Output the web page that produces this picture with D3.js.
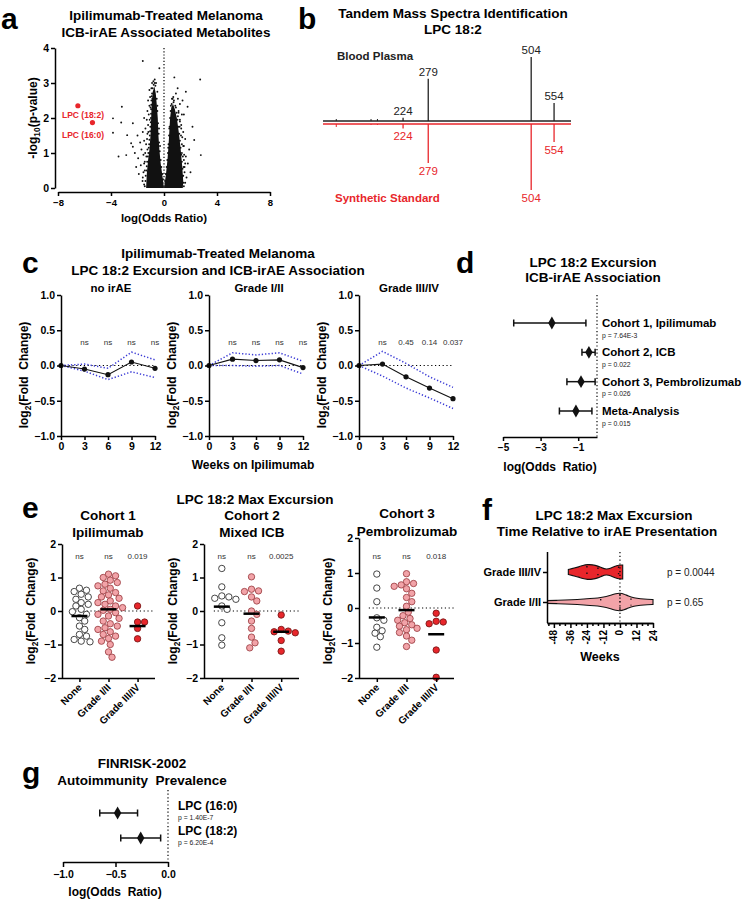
<!DOCTYPE html>
<html><head><meta charset="utf-8">
<script src="https://cdn.jsdelivr.net/npm/d3@7"></script>
<style>body{margin:0;background:#fff}</style>
</head><body><svg id="fig" width="745" height="899"></svg>
<script>
// ---------------- DATA ----------------
// a: volcano
const volcanoXTicks = [-8, -4, 0, 4, 8];
const volcanoYTicks = [0, 1, 2, 3, 4];
const volcanoHighlights = [
  { name: "LPC (18:2)", x: -6.5, y: 2.35 },
  { name: "LPC (16:0)", x: -5.4, y: 1.87 }
];
// dense core outlines (log OR, -log10 p)
const volcanoCoreLeft = [[-1.35,0],[-1.3,0.4],[-1.2,0.8],[-1.1,1.1],[-1.02,1.5],[-0.97,2.0],[-0.93,2.4],[-0.85,2.75],[-0.72,2.9],[-0.62,2.7],[-0.55,2.4],[-0.47,2.0],[-0.42,1.5],[-0.35,1.1],[-0.25,0.7],[-0.12,0.35],[-0.03,0.08],[0,0]];
const volcanoCoreRight = [[0,0],[0.04,0.1],[0.15,0.4],[0.26,0.8],[0.34,1.2],[0.4,1.6],[0.46,2.0],[0.55,2.3],[0.68,2.4],[0.82,2.25],[0.97,2.0],[1.13,1.56],[1.26,1.1],[1.38,0.6],[1.45,0.2],[1.42,0]];
const volcanoScatter = [
  [-1.6,3.63],[-0.35,3.42],[0.78,3.16],[2.73,3.1],[-0.9,3.0],[-0.8,3.05],[-0.7,3.1],[-0.6,3.0],[-0.95,2.85],[-1.05,2.6],[-0.5,2.75],
  [1.03,2.85],[1.65,2.75],[1.4,2.5],[1.78,2.32],[1.2,2.4],[1.05,2.55],[1.5,2.1],[2.15,1.75],[2.28,1.37],[2.78,0.94],
  [1.9,1.1],[1.65,0.9],[1.8,0.7],[1.55,0.6],[2.0,0.45],[1.4,0.35],[1.7,0.3],[1.6,1.4],[1.3,1.8],[1.45,1.6],[1.35,2.1],
  [-3.18,2.32],[-3.85,1.99],[-3.23,1.87],[-3.85,1.58],[-2.35,1.85],[-2.78,1.51],[-2.48,1.28],[-3.43,0.9],[-2.85,0.94],
  [-2.35,1.18],[-2.2,1.0],[-1.95,0.85],[-2.1,0.6],[-1.75,0.65],[-1.9,0.4],[-1.6,0.3],[-1.7,1.1],[-1.5,1.35],[-1.4,1.7],
  [-1.3,1.95],[-1.25,2.2],[-1.5,2.0],[-1.2,2.5],[-1.1,2.8],[-1.6,1.6],[-1.8,1.3],[-2.0,1.5],[-1.55,0.95],[-1.45,0.5],
  [0.7,2.6],[0.9,2.7],[0.6,2.55],[1.1,2.2],[1.2,1.9],[1.5,1.2],[1.35,1.0],[1.5,0.8],[1.6,0.15],[-1.5,0.1],[-1.45,0.75],
  [-1.45,0.05],[-1.4,0.2],[-1.38,0.35],[-1.33,0.5],[-1.3,0.62],[-1.27,0.75],[-1.22,0.9],[-1.18,1.0],[-1.15,1.15],[-1.12,1.25],
  [-1.1,1.38],[-1.07,1.5],[-1.05,1.62],[-1.03,1.75],[-1.0,1.88],[-0.99,2.0],[-0.98,2.12],[-0.97,2.25],[-0.96,2.38],[-0.95,2.5],
  [-0.93,2.62],[-0.9,2.7],[-0.85,2.85],[-0.78,2.95],[-0.7,3.0],[-0.65,2.92],[-0.55,2.55],[-0.5,2.2],[-0.45,1.85],[-0.4,1.55],
  [-0.37,1.3],[-0.32,1.05],[-0.25,0.8],[-0.2,0.6],[-0.12,0.4],[-0.08,0.25],[0.08,0.2],[0.14,0.4],[0.2,0.6],[0.25,0.8],
  [0.3,1.0],[0.34,1.25],[0.38,1.5],[0.42,1.75],[0.46,2.0],[0.5,2.2],[0.58,2.4],[0.65,2.55],[0.75,2.5],[0.85,2.35],
  [0.95,2.15],[1.02,1.95],[1.08,1.75],[1.15,1.55],[1.2,1.35],[1.25,1.15],[1.3,0.95],[1.35,0.75],[1.4,0.55],[1.45,0.35],
  [1.48,0.15],[1.5,0.05],[1.55,0.45],[1.6,0.7],[1.52,0.95],[1.45,1.2],[1.38,1.45],[1.3,1.7],[1.2,1.95],[1.1,2.15],
  [-1.25,1.55],[-1.2,1.8],[-1.15,2.1],[-1.1,2.35],[-1.35,1.25],[-1.42,1.0],[-1.5,0.7],[-1.55,0.45],[-1.62,0.2],[-1.28,1.4],
  [-1.33,0.9],[-1.25,1.1],[-1.18,1.6],[-1.08,1.95],[-1.02,2.3],[-0.88,2.55],[1.28,1.5],[1.35,1.25],[1.42,0.9],[1.48,0.6],
  [1.18,1.75],[1.05,2.05],[0.9,2.3],[0.72,2.45],[-0.3,1.2],[-0.38,1.7],[-0.5,2.35],[0.32,1.15],[0.4,1.7],[0.52,2.35]
];
// b: MS/MS spectra
const msPlasma = [{ mz: 224, i: 5 }, { mz: 279, i: 66 }, { mz: 504, i: 100 }, { mz: 554, i: 28 }];
const msStandard = [{ mz: 224, i: 7 }, { mz: 279, i: 61 }, { mz: 504, i: 103 }, { mz: 554, i: 28 }];
const msMinor = [78, 154, 168];
// c: time courses
const weeks = [0, 3, 6, 9, 12];
const cPanels = ["no irAE", "Grade I/II", "Grade III/IV"];
const cMean = [[0, -0.05, -0.13, 0.05, -0.04], [0, 0.09, 0.07, 0.08, -0.03], [0, 0.02, -0.16, -0.32, -0.47]];
const cUpper = [[0, 0.02, -0.04, 0.19, 0.08], [0, 0.18, 0.15, 0.18, 0.06], [0, 0.2, 0.03, -0.16, -0.31]];
const cLower = [[0, -0.08, -0.2, -0.09, -0.17], [0, 0.0, -0.01, 0.0, -0.12], [0, -0.15, -0.32, -0.46, -0.61]];
const cSig = [["ns", "ns", "ns", "ns"], ["ns", "ns", "ns", "ns"], ["ns", "0.45", "0.14", "0.037"]];
const cYTicks = [-1.0, -0.5, 0.0, 0.5, 1.0];
// d: forest
const dNames = ["Cohort 1, Ipilimumab", "Cohort 2, ICB", "Cohort 3, Pembrolizumab", "Meta-Analysis"];
const dEst = [-2.4, -0.43, -0.85, -1.12];
const dLo = [-4.43, -0.8, -1.6, -2.0];
const dHi = [-0.59, -0.1, -0.1, -0.27];
const dP = ["p = 7.64E-3", "p = 0.022", "p = 0.026", "p = 0.015"];
const dTicks = [-5, -3, -1];
// e: max excursion
const eGroups = ["None", "Grade I/II", "Grade III/IV"];
const eTitles = [["Cohort 1", "Ipilimumab"], ["Cohort 2", "Mixed ICB"], ["Cohort 3", "Pembrolizumab"]];
const c1None = [0.68,0.62,0.58,0.5,0.42,0.35,0.25,0.2,0.15,0.05,-0.02,-0.1,-0.2,-0.3,-0.45,-0.55,-0.7,-0.75,-0.85,-0.9,-0.92];
const c1G12 = [1.1,1.05,1.0,0.92,0.85,0.8,0.75,0.68,0.6,0.55,0.48,0.42,0.38,0.3,0.25,0.2,0.15,0.1,0.05,0.02,-0.05,-0.1,-0.15,-0.22,-0.3,-0.38,-0.45,-0.5,-0.55,-0.62,-0.7,-0.75,-0.82,-0.9,-1.0,-1.22,-1.38];
const c1G34 = [0.15,-0.33,-0.33,-0.52,-0.83];
const c2None = [1.27,0.72,0.45,0.42,0.38,0.35,0.15,0.05,-0.35,-0.8,-1.02];
const c2G12 = [1.02,0.65,0.6,0.58,0.42,0.3,0.0,-0.1,-0.3,-0.52,-0.78,-0.95,-1.1];
const c2G34 = [-0.12,-0.55,-0.6,-0.62,-0.65,-0.88,-1.2];
const c3None = [0.97,0.57,0.18,-0.28,-0.35,-0.55,-0.65,-0.72,-0.82,-1.12];
const c3G12 = [0.98,0.75,0.7,0.66,0.62,0.55,0.42,0.3,0.18,0.05,-0.12,-0.22,-0.3,-0.35,-0.42,-0.48,-0.52,-0.58,-0.62,-0.7,-0.8,-0.92,-1.1];
const c3G34 = [-0.15,-0.38,-0.4,-0.45,-1.2,-1.98];
const eMedians = [[-0.15, 0.05, -0.45], [0.13, -0.08, -0.62], [-0.27, -0.06, -0.75]];
const eSig = [["ns", "ns", "0.019"], ["ns", "ns", "0.0025"], ["ns", "ns", "0.018"]];
const eYTicks = [-2, -1, 0, 1, 2];
// f: violins (week, half-width)
const fGroups = ["Grade III/IV", "Grade I/II"];
const fProfileG34 = [[-37.5,2.5],[-33,4],[-30,5],[-27,6.7],[-23.5,7.5],[-20,7.3],[-16,6],[-13,4],[-10,2.7],[-7,3.5],[-4,5.5],[-1,7],[2,7]];
const fProfileG12 = [[-56,1.2],[-45,1.7],[-35,2.2],[-26,3],[-18,3.8],[-14,4.5],[-10,5.5],[-6,7],[-3,8.5],[0,9],[3,8],[6,6],[10,4.2],[15,3.2],[20,2.6],[24,2.5]];
const fQuartiles = [[-24, -16, -1], [-14, 0, 8]];
const fP = ["p = 0.0044", "p = 0.65"];
const fTicks = [-48, -36, -24, -12, 0, 12, 24];
// g: FINRISK forest
const gNames = ["LPC (16:0)", "LPC (18:2)"];
const gEst = [-0.48, -0.26];
const gLo = [-0.65, -0.45];
const gHi = [-0.29, -0.07];
const gP = ["p = 1.40E-7", "p = 6.20E-4"];
const gTicks = [-1.0, -0.5, 0.0];

// ---------------- DRAW ----------------
const F = '"Liberation Sans", Arial, Helvetica, sans-serif';
const RED = "#e8262b", PINK = "#f2a3a8", BLUE = "#3b3bd6";
const svg = d3.select("#fig");
svg.append("rect").attr("width", 745).attr("height", 899).attr("fill", "#fff");

function txt(x, y, s, o = {}) {
  const t = svg.append("text").attr("x", x).attr("y", y).text(s)
    .attr("font-family", F).attr("font-size", o.size || 12)
    .attr("font-weight", o.bold ? "bold" : "normal")
    .attr("text-anchor", o.anchor || "middle").attr("fill", o.fill || "#000")
    .style("white-space", "pre");
  if (o.rotate) t.attr("transform", `rotate(${o.rotate},${x},${y})`);
  return t;
}
function subLabel(x, y, pre, sub, post, o = {}) {
  const t = svg.append("text").attr("x", x).attr("y", y)
    .attr("font-family", F).attr("font-size", o.size || 12).attr("font-weight", "bold")
    .attr("text-anchor", "middle").style("white-space", "pre");
  if (o.rotate) t.attr("transform", `rotate(${o.rotate},${x},${y})`);
  t.append("tspan").text(pre);
  t.append("tspan").text(sub).attr("font-size", (o.size || 12) * 0.7).attr("dy", 3);
  t.append("tspan").text(post).attr("dy", -3);
  return t;
}
function styleAxis(g, fs) {
  g.selectAll("path.domain").attr("stroke", "#000").attr("stroke-width", 1.5);
  g.selectAll(".tick line").attr("stroke", "#000").attr("stroke-width", 1.5);
  g.selectAll(".tick text").attr("font-family", F).attr("font-size", fs || 10.5)
    .attr("font-weight", "bold").attr("fill", "#000");
}
function letter(x, y, s) { txt(x, y, s, { size: 30, bold: true, anchor: "start" }); }

// ===== Panel a =====
letter(1, 28.5, "a");
txt(166, 19.5, "Ipilimumab-Treated Melanoma", { size: 13.5, bold: true });
txt(166, 36.5, "ICB-irAE Associated Metabolites", { size: 13.5, bold: true });
{
  const x = d3.scaleLinear().domain([-8, 8]).range([58, 270]);
  const y = d3.scaleLinear().domain([0, 4]).range([188, 48]);
  const line = d3.line().x(d => x(d[0])).y(d => y(d[1]));
  svg.append("path").attr("d", line(volcanoCoreLeft) + "Z").attr("fill", "#111");
  svg.append("path").attr("d", line(volcanoCoreRight) + "Z").attr("fill", "#111");
  svg.append("g").selectAll("circle").data(volcanoScatter).join("circle")
    .attr("cx", d => x(d[0])).attr("cy", d => y(d[1])).attr("r", 0.95).attr("fill", "#111");
  svg.append("line").attr("x1", x(0)).attr("x2", x(0)).attr("y1", 48).attr("y2", 188)
    .attr("stroke", "#000").attr("stroke-width", 1.2).attr("stroke-dasharray", "1.2,2");
  svg.append("g").selectAll("circle").data(volcanoHighlights).join("circle")
    .attr("cx", d => x(d.x)).attr("cy", d => y(d.y)).attr("r", 2.6).attr("fill", RED);
  volcanoHighlights.forEach(d => txt(83, y(d.y) + 15 - (d.name === "LPC (16:0)" ? 0 : 3), d.name, { size: 8.5, bold: true, fill: RED }));
  const gx = svg.append("g").attr("transform", "translate(0,192)")
    .call(d3.axisBottom(x).tickValues(volcanoXTicks).tickSize(4).tickSizeOuter(0).tickPadding(3));
  styleAxis(gx, 9.5);
  const gy = svg.append("g").attr("transform", "translate(55,0)")
    .call(d3.axisLeft(y).tickValues(volcanoYTicks).tickSize(4).tickSizeOuter(0).tickPadding(2).tickFormat(d3.format("d")));
  styleAxis(gy, 10.5);
  txt(164, 222, "log(Odds Ratio)", { size: 11.5, bold: true });
  subLabel(37, 118, "-log", "10", "(p-value)", { size: 12, rotate: -90 });
}

// ===== Panel b =====
letter(298, 28.5, "b");
txt(453, 17.5, "Tandem Mass Spectra Identification", { size: 13.5, bold: true });
txt(453, 34, "LPC 18:2", { size: 13.5, bold: true });
{
  const x = d3.scaleLinear().domain([49, 591]).range([323, 571]);
  const h = d3.scaleLinear().domain([0, 100]).range([0, 64]);
  const yb = 121, yr = 124;
  svg.append("line").attr("x1", 323).attr("x2", 571).attr("y1", yb).attr("y2", yb).attr("stroke", "#222").attr("stroke-width", 1.4);
  svg.append("line").attr("x1", 323).attr("x2", 571).attr("y1", yr).attr("y2", yr).attr("stroke", RED).attr("stroke-width", 1.4);
  msMinor.forEach((m, k) => {
    svg.append("line").attr("x1", x(m)).attr("x2", x(m)).attr("y1", yb - 2).attr("y2", yb).attr("stroke", "#222").attr("stroke-width", 1);
    svg.append("line").attr("x1", x(m)).attr("x2", x(m)).attr("y1", yr).attr("y2", yr + (k === 0 ? 3 : 1)).attr("stroke", RED).attr("stroke-width", 1);
  });
  msPlasma.forEach(p => {
    svg.append("line").attr("x1", x(p.mz)).attr("x2", x(p.mz)).attr("y1", yb).attr("y2", yb - h(p.i)).attr("stroke", "#222").attr("stroke-width", 1.3);
    txt(x(p.mz), yb - h(p.i) - 3, String(p.mz), { size: 11.5, fill: "#222" });
  });
  msStandard.forEach(p => {
    svg.append("line").attr("x1", x(p.mz)).attr("x2", x(p.mz)).attr("y1", yr).attr("y2", yr + h(p.i)).attr("stroke", RED).attr("stroke-width", 1.3);
    txt(x(p.mz), yr + h(p.i) + 12, String(p.mz), { size: 11.5, fill: RED });
  });
  txt(337, 60, "Blood Plasma", { size: 11.5, bold: true, anchor: "start", fill: "#222" });
  txt(335, 202, "Synthetic Standard", { size: 11.5, bold: true, anchor: "start", fill: RED });
}

// ===== Panel c =====
letter(22, 273, "c");
txt(218, 258, "Ipilimumab-Treated Melanoma", { size: 13.5, bold: true });
txt(218, 275, "LPC 18:2 Excursion and ICB-irAE Association", { size: 13.5, bold: true });
{
  const lefts = [61, 209, 359];
  cPanels.forEach((name, k) => {
    const x = d3.scaleLinear().domain([0, 12]).range([lefts[k], lefts[k] + 94]);
    const y = d3.scaleLinear().domain([-1, 1]).range([436, 295]);
    txt(lefts[k] + 50, 292, name, { size: 11.5, bold: true });
    svg.append("line").attr("x1", x(0)).attr("x2", x(12)).attr("y1", y(0)).attr("y2", y(0))
      .attr("stroke", "#000").attr("stroke-width", 1.2).attr("stroke-dasharray", "1.2,2.6");
    const ln = d3.line().x((d, i) => x(weeks[i])).y(d => y(d));
    [cUpper[k], cLower[k]].forEach(arr => svg.append("path").attr("d", ln(arr)).attr("fill", "none")
      .attr("stroke", BLUE).attr("stroke-width", 1.5).attr("stroke-dasharray", "1.3,2"));
    svg.append("path").attr("d", ln(cMean[k])).attr("fill", "none").attr("stroke", "#111").attr("stroke-width", 1.1);
    svg.append("g").selectAll("circle").data(cMean[k]).join("circle")
      .attr("cx", (d, i) => x(weeks[i])).attr("cy", d => y(d)).attr("r", 2.6).attr("fill", "#111");
    cSig[k].forEach((s, i) => txt(x(weeks[i + 1]), 345, s, { size: 8, fill: "#333" }));
    const gx = svg.append("g").attr("transform", "translate(0,436)")
      .call(d3.axisBottom(x).tickValues(weeks).tickSize(4).tickSizeOuter(0).tickPadding(3));
    styleAxis(gx, 10.5);
    const gy = svg.append("g").attr("transform", `translate(${lefts[k]},0)`)
      .call(d3.axisLeft(y).tickValues(cYTicks).tickSize(4).tickSizeOuter(0).tickPadding(2).tickFormat(d3.format(".1f")));
    styleAxis(gy, 10.5);
    subLabel(lefts[k] - 33, 375, "log", "2", "(Fold  Change)", { size: 12, rotate: -90 });
  });
  txt(253, 469, "Weeks on Ipilimumab", { size: 12, bold: true });
}

// ===== Panel d =====
letter(456, 273, "d");
txt(593, 267, "LPC 18:2 Excursion", { size: 13.5, bold: true });
txt(593, 282, "ICB-irAE Association", { size: 13.5, bold: true });
function forest(names, est, lo, hi, ps, xs, ys, labelX) {
  names.forEach((n, i) => {
    const yy = ys(n);
    svg.append("line").attr("x1", xs(lo[i])).attr("x2", xs(hi[i])).attr("y1", yy).attr("y2", yy).attr("stroke", "#111").attr("stroke-width", 1.5);
    [lo[i], hi[i]].forEach(v => svg.append("line").attr("x1", xs(v)).attr("x2", xs(v)).attr("y1", yy - 3.5).attr("y2", yy + 3.5).attr("stroke", "#111").attr("stroke-width", 1.5));
    svg.append("path").attr("d", d3.symbol().type(d3.symbolDiamond).size(48)()).attr("transform", `translate(${xs(est[i])},${yy})`).attr("fill", "#111");
    txt(labelX, yy + 4, n, { size: 11.5, bold: true, anchor: "start" });
    txt(labelX, yy + 14.5, ps[i], { size: 6.8, anchor: "start", fill: "#222" });
  });
}
{
  const x = d3.scaleLinear().domain([-5, 0]).range([503, 597]);
  const y = d3.scalePoint().domain(dNames).range([323, 411]);
  svg.append("line").attr("x1", 597).attr("x2", 597).attr("y1", 295).attr("y2", 437)
    .attr("stroke", "#000").attr("stroke-width", 1.2).attr("stroke-dasharray", "1.2,2.4");
  forest(dNames, dEst, dLo, dHi, dP, x, y, 602);
  const gx = svg.append("g").attr("transform", "translate(0,437)")
    .call(d3.axisBottom(x).tickValues(dTicks).tickSize(4).tickSizeOuter(0).tickPadding(3).tickFormat(d3.format("d")));
  styleAxis(gx, 10);
  txt(550, 471, "log(Odds  Ratio)", { size: 12, bold: true });
}

// ===== Panel e =====
letter(22, 518, "e");
txt(255, 504, "LPC 18:2 Max Excursion", { size: 13.5, bold: true });
function swarm(vals, yS, r) {
  const pts = vals.map(v => ({ v, y: yS(v) })).sort((a, b) => a.y - b.y);
  const placed = [];
  pts.forEach(p => {
    let dx = 0;
    for (let t = 0; t < 60; t++) {
      dx = t === 0 ? 0 : (t % 2 ? 1 : -1) * Math.ceil(t / 2) * r * 0.55;
      if (placed.every(q => (q.dx - dx) ** 2 + (q.y - p.y) ** 2 >= (2 * r) ** 2 * 0.92)) break;
    }
    p.dx = dx; placed.push(p);
  });
  return placed;
}
{
  const setups = [
    { left: 62, right: 155, top: 544, titleY: [520, 537], data: [c1None, c1G12, c1G34] },
    { left: 204, right: 299, top: 544, titleY: [520, 537], data: [c2None, c2G12, c2G34] },
    { left: 359, right: 454, top: 538, titleY: [518, 536], data: [c3None, c3G12, c3G34] }
  ];
  const titleX = [108, 252, 407];
  setups.forEach((s, k) => {
    txt(titleX[k], s.titleY[0], eTitles[k][0], { size: 13.5, bold: true });
    txt(titleX[k], s.titleY[1], eTitles[k][1], { size: 13.5, bold: true });
    const y = d3.scaleLinear().domain([-2, 2]).range([678, s.top]);
    const x = d3.scalePoint().domain(eGroups).range([s.left, s.right]).padding(0.6);
    svg.append("line").attr("x1", x(eGroups[0]) - 8).attr("x2", s.right).attr("y1", y(0)).attr("y2", y(0))
      .attr("stroke", "#000").attr("stroke-width", 1.2).attr("stroke-dasharray", "1.2,2.6");
    const r = 3.2;
    s.data.forEach((vals, g) => {
      const pts = swarm(vals, y, r);
      svg.append("g").selectAll("circle").data(pts).join("circle")
        .attr("cx", d => x(eGroups[g]) + d.dx).attr("cy", d => d.y).attr("r", r)
        .attr("fill", g === 0 ? "#fff" : g === 1 ? PINK : RED)
        .attr("stroke", g === 0 ? "#333" : g === 1 ? "#a0454a" : "#7a1a1a").attr("stroke-width", 0.9);
      svg.append("line").attr("x1", x(eGroups[g]) - 8).attr("x2", x(eGroups[g]) + 8)
        .attr("y1", y(eMedians[k][g])).attr("y2", y(eMedians[k][g])).attr("stroke", "#000").attr("stroke-width", 2.5);
      txt(x(eGroups[g]), 559, eSig[k][g], { size: 8, fill: "#333" });
    });
    const gx = svg.append("g").attr("transform", "translate(0,678)")
      .call(d3.axisBottom(x).tickSize(4).tickSizeOuter(0).tickFormat(""));
    styleAxis(gx, 10);
    gx.select("path.domain").attr("d", `M${s.left},0.5H${s.right}`);
    eGroups.forEach(gname => txt(x(gname) + 3, 688, gname, { size: 10, bold: true, anchor: "end", rotate: -45 }));
    const gy = svg.append("g").attr("transform", `translate(${s.left},0)`)
      .call(d3.axisLeft(y).tickValues(eYTicks).tickSize(4).tickSizeOuter(0).tickPadding(2).tickFormat(d3.format("d")));
    styleAxis(gy, 10.5);
    subLabel(s.left - 27, 611, "log", "2", "(Fold  Change)", { size: 12, rotate: -90 });
  });
}

// ===== Panel f =====
letter(482, 520, "f");
txt(614, 520, "LPC 18:2 Max Excursion", { size: 13.5, bold: true });
txt(607, 536, "Time Relative to irAE Presentation", { size: 13.5, bold: true });
{
  const x = d3.scaleLinear().domain([-53, 24]).range([547, 653]);
  const y = d3.scalePoint().domain(fGroups).range([572, 602]);
  const clipId = "fclip";
  svg.append("clipPath").attr("id", clipId).append("rect").attr("x", 547).attr("y", 540).attr("width", 120).attr("height", 90);
  [fProfileG34, fProfileG12].forEach((prof, k) => {
    const cy = y(fGroups[k]);
    const area = d3.area().x(d => x(d[0])).y0(d => cy - d[1]).y1(d => cy + d[1]).curve(d3.curveBasis);
    svg.append("path").attr("d", area(prof)).attr("clip-path", `url(#${clipId})`)
      .attr("fill", k === 0 ? RED : PINK).attr("stroke", "#111").attr("stroke-width", 1.1);
    fQuartiles[k].forEach(q => {
      let hw = 0;
      for (let i = 0; i < prof.length - 1; i++) if (q >= prof[i][0] && q <= prof[i + 1][0]) {
        const t = (q - prof[i][0]) / (prof[i + 1][0] - prof[i][0]); hw = prof[i][1] + t * (prof[i + 1][1] - prof[i][1]);
      }
      svg.append("line").attr("x1", x(q)).attr("x2", x(q)).attr("y1", cy - hw + 1.5).attr("y2", cy + hw - 1.5)
        .attr("stroke", "#111").attr("stroke-width", 1.4).attr("stroke-dasharray", "1.4,5");
    });
    txt(667, cy + 3.5, fP[k], { size: 10, anchor: "start", fill: "#222" });
  });
  svg.append("line").attr("x1", x(0)).attr("x2", x(0)).attr("y1", 552).attr("y2", 623)
    .attr("stroke", "#000").attr("stroke-width", 1.2).attr("stroke-dasharray", "1.2,2.6");
  const minor = d3.range(-52, 25, 4).filter(v => !fTicks.includes(v));
  svg.append("g").attr("transform", "translate(0,623)")
    .call(d3.axisBottom(x).tickValues(minor).tickSize(3).tickSizeOuter(0).tickFormat(""))
    .call(g => styleAxis(g));
  const gx = svg.append("g").attr("transform", "translate(0,623)")
    .call(d3.axisBottom(x).tickValues(fTicks).tickSize(5).tickSizeOuter(0).tickFormat(""));
  styleAxis(gx);
  fTicks.forEach(t => txt(x(t) + 3.5, 630, String(t), { size: 10, bold: true, anchor: "end", rotate: -90 }));
  const gy = svg.append("g").attr("transform", "translate(547,0)")
    .call(d3.axisLeft(y).tickSize(4).tickSizeOuter(0).tickPadding(2));
  styleAxis(gy, 11);
  gy.select("path.domain").attr("d", "M0.5,552V623");
  txt(600, 661, "Weeks", { size: 12.5, bold: true });
}

// ===== Panel g =====
letter(22, 783, "g");
txt(142, 768, "FINRISK-2002", { size: 13.5, bold: true });
txt(142, 785, "Autoimmunity  Prevalence", { size: 13.5, bold: true });
{
  const x = d3.scaleLinear().domain([-1, 0]).range([63, 168]);
  const y = d3.scalePoint().domain(gNames).range([813, 838]);
  svg.append("line").attr("x1", 168).attr("x2", 168).attr("y1", 790).attr("y2", 862)
    .attr("stroke", "#000").attr("stroke-width", 1.2).attr("stroke-dasharray", "1.2,2.4");
  gNames.forEach((n, i) => {
    const yy = y(n);
    svg.append("line").attr("x1", x(gLo[i])).attr("x2", x(gHi[i])).attr("y1", yy).attr("y2", yy).attr("stroke", "#111").attr("stroke-width", 1.5);
    [gLo[i], gHi[i]].forEach(v => svg.append("line").attr("x1", x(v)).attr("x2", x(v)).attr("y1", yy - 3.5).attr("y2", yy + 3.5).attr("stroke", "#111").attr("stroke-width", 1.5));
    svg.append("path").attr("d", d3.symbol().type(d3.symbolDiamond).size(48)()).attr("transform", `translate(${x(gEst[i])},${yy})`).attr("fill", "#111");
    txt(178, yy - 3, n, { size: 12, bold: true, anchor: "start" });
    txt(178, yy + 7, gP[i], { size: 6.8, anchor: "start", fill: "#222" });
  });
  const gx = svg.append("g").attr("transform", "translate(0,862)")
    .call(d3.axisBottom(x).tickValues(gTicks).tickSize(5).tickSizeOuter(0).tickPadding(4).tickFormat(d3.format(".1f")));
  styleAxis(gx, 10.5);
  txt(115, 896, "log(Odds  Ratio)", { size: 12, bold: true });
}
</script></body></html>
